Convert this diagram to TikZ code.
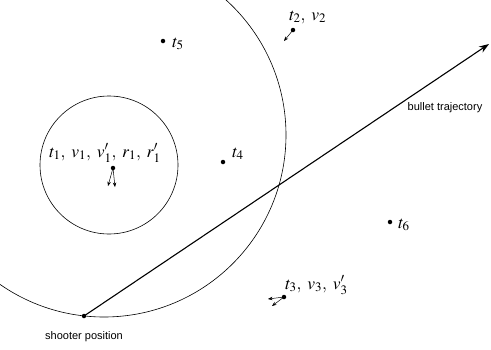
\documentclass[tikz,border=0pt]{standalone}
\usepackage{mathptmx}
\usepackage{fontspec}
\setsansfont{Liberation Sans}
\usetikzlibrary{positioning,arrows.meta}
\tikzset{
  every picture/.style={line width=0.6pt},
  spt/.style={circle, fill=black, inner sep=0pt, minimum size=4.5pt},
  slab/.style={font=\fontsize{17.5}{20}\selectfont, inner sep=0pt, anchor=base west},
  sdir/.style={-{Stealth[length=4.5pt,width=3.5pt]}, line width=0.5pt},
  snote/.style={font=\sffamily\fontsize{11}{13}\selectfont, inner sep=0pt},
  sshot/.style={line width=1.1pt, -{Stealth[length=10pt,width=7pt]}},
}

\begin{document}
\begin{tikzpicture}[x=1pt,y=-1pt]
  \useasboundingbox (0,0) rectangle (491,349);
  % reachable region and target region
  \begin{scope}
    \clip (0,0) rectangle (491,349);
    \draw (104,135) circle[radius=182];
  \end{scope}
  \draw (109,165) circle[radius=69];

  % targets
  \node[spt] (t1) at (113,168) {};
  \node[spt] (t2) at (293,30) {};
  \node[spt] (t3) at (284,297) {};
  \node[spt] (t4) at (223,162) {};
  \node[spt] (t5) at (163,41) {};
  \node[spt] (t6) at (390,222) {};
  \node[slab] (l1) at (49,157) {$t_1,\;v_1,\;v_1',\;r_1,\;r_1'$};
  \node[slab] (l2) at (289,20) {$t_2,\;v_2$};
  \node[slab] (l3) at (285,289) {$t_3,\;v_3,\;v_3'$};
  \node[slab] (l4) at (232,157) {$t_4$};
  \node[slab] (l5) at (172,47) {$t_5$};
  \node[slab] (l6) at (398,228) {$t_6$};

  % motion
  \coordinate (m1a) at (108,186);
  \coordinate (m1b) at (115,187);
  \coordinate (m2) at (284,41);
  \coordinate (m3a) at (268,299);
  \coordinate (m3b) at (272,306);
  \draw[sdir] (t1.center) -- (m1a);
  \draw[sdir] (t1.center) -- (m1b);
  \draw[sdir] (t2.center) -- (m2);
  \draw[sdir] (t3.center) -- (m3a);
  \draw[sdir] (t3.center) -- (m3b);

  % shooter and bullet
  \node[spt] (sh) at (84,316) {};
  \node[snote, below=13pt of sh] (shl) {shooter position};
  \coordinate (aim) at (489,44);
  \draw[sshot] (sh.center) -- (aim);
  \node[snote] (bl) at (445,108) {bullet trajectory};
\end{tikzpicture}
\end{document}
